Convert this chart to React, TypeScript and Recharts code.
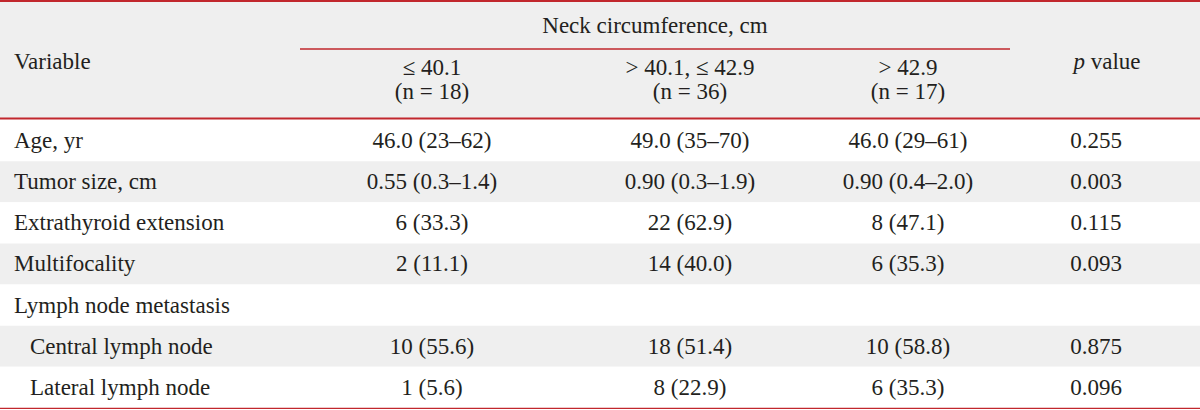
import { ComposedChart, Bar, Cell, XAxis, YAxis, LabelList, Customized } from 'recharts'

const variables = [
  'Age, yr',
  'Tumor size, cm',
  'Extrathyroid extension',
  'Multifocality',
  'Lymph node metastasis',
  'Central lymph node',
  'Lateral lymph node',
]
const indented = [false, false, false, false, false, true, true]
const smallNeck = ['46.0 (23–62)', '0.55 (0.3–1.4)', '6 (33.3)', '2 (11.1)', '', '10 (55.6)', '1 (5.6)']
const midNeck = ['49.0 (35–70)', '0.90 (0.3–1.9)', '22 (62.9)', '14 (40.0)', '', '18 (51.4)', '8 (22.9)']
const largeNeck = ['46.0 (29–61)', '0.90 (0.4–2.0)', '8 (47.1)', '6 (35.3)', '', '10 (58.8)', '6 (35.3)']
const pValues = ['0.255', '0.003', '0.115', '0.093', '', '0.875', '0.096']
const groupLabels = ['≤ 40.1', '> 40.1, ≤ 42.9', '> 42.9']
const groupCounts = [18, 36, 17]

// layout
const W = 1200
const H = 410
const FONT = '"Liberation Serif", "Times New Roman", serif'
const FS = 23
const INK = '#231f20'
const RED = '#c1272d'
const GRAY = '#efefef'
const COL = { label: 14, small: 432, mid: 690, large: 908, p: 1096 }
const groupX = [COL.small, COL.mid, COL.large]

const rows = variables.map((v, i) => ({
  variable: v,
  small: smallNeck[i],
  mid: midNeck[i],
  large: largeNeck[i],
  p: pValues[i],
  span: W,
}))

const cell = (pos: number, anchor: 'start' | 'middle') => (props: any) => {
  const vb = props.viewBox || props
  const { x, y, width, height } = vb
  if (!props.value) return null
  const indent = anchor === 'start' && indented[props.index] ? 16 : 0
  return (
    <text
      x={x + (width * pos) / W + indent}
      y={y + height / 2}
      textAnchor={anchor}
      dominantBaseline="central"
      fontFamily={FONT}
      fontSize={FS}
      fill={INK}
    >
      {props.value}
    </text>
  )
}

const Header = () => (
  <g>
    <rect x={0} y={0} width={W} height={118} fill={GRAY} />
    <line x1={0} x2={W} y1={1} y2={1} stroke={RED} strokeWidth={2} />
    <line x1={300} x2={1010} y1={49} y2={49} stroke={RED} strokeWidth={1.5} />
    <line x1={0} x2={W} y1={118.5} y2={118.5} stroke={RED} strokeWidth={2} />
    <line x1={0} x2={W} y1={120.5} y2={120.5} stroke="#f2c9cc" strokeWidth={1} />
    <line x1={0} x2={W} y1={408} y2={408} stroke={RED} strokeWidth={2} />
    <g fontFamily={FONT} fontSize={FS} fill={INK} dominantBaseline="central">
      <text x={COL.label} y={61}>Variable</text>
      <text x={655} y={25} textAnchor="middle">Neck circumference, cm</text>
      {groupLabels.map((g, i) => (
        <g key={g}>
          <text x={groupX[i]} y={67} textAnchor="middle">{g}</text>
          <text x={groupX[i]} y={91} textAnchor="middle">(n = {groupCounts[i]})</text>
        </g>
      ))}
      <text x={1107} y={61} textAnchor="middle">
        <tspan fontStyle="italic">p</tspan> value
      </text>
    </g>
  </g>
)

export default function App() {
  return (
    <div style={{ position: 'absolute', left: 0, top: 0, background: '#fff' }}>
      <ComposedChart
        width={W}
        height={H}
        layout="vertical"
        data={rows}
        margin={{ top: 120, right: 0, bottom: 2, left: 0 }}
        barCategoryGap={0}
      >
        <XAxis type="number" domain={[0, W]} hide />
        <YAxis type="category" dataKey="variable" hide />
        <Customized component={Header} />
        <Bar dataKey="span" isAnimationActive={false}>
          {rows.map((r, i) => (
            <Cell key={r.variable} fill={i % 2 ? GRAY : '#ffffff'} />
          ))}
          <LabelList dataKey="variable" content={cell(COL.label, 'start')} />
          <LabelList dataKey="small" content={cell(COL.small, 'middle')} />
          <LabelList dataKey="mid" content={cell(COL.mid, 'middle')} />
          <LabelList dataKey="large" content={cell(COL.large, 'middle')} />
          <LabelList dataKey="p" content={cell(COL.p, 'middle')} />
        </Bar>
      </ComposedChart>
    </div>
  )
}
